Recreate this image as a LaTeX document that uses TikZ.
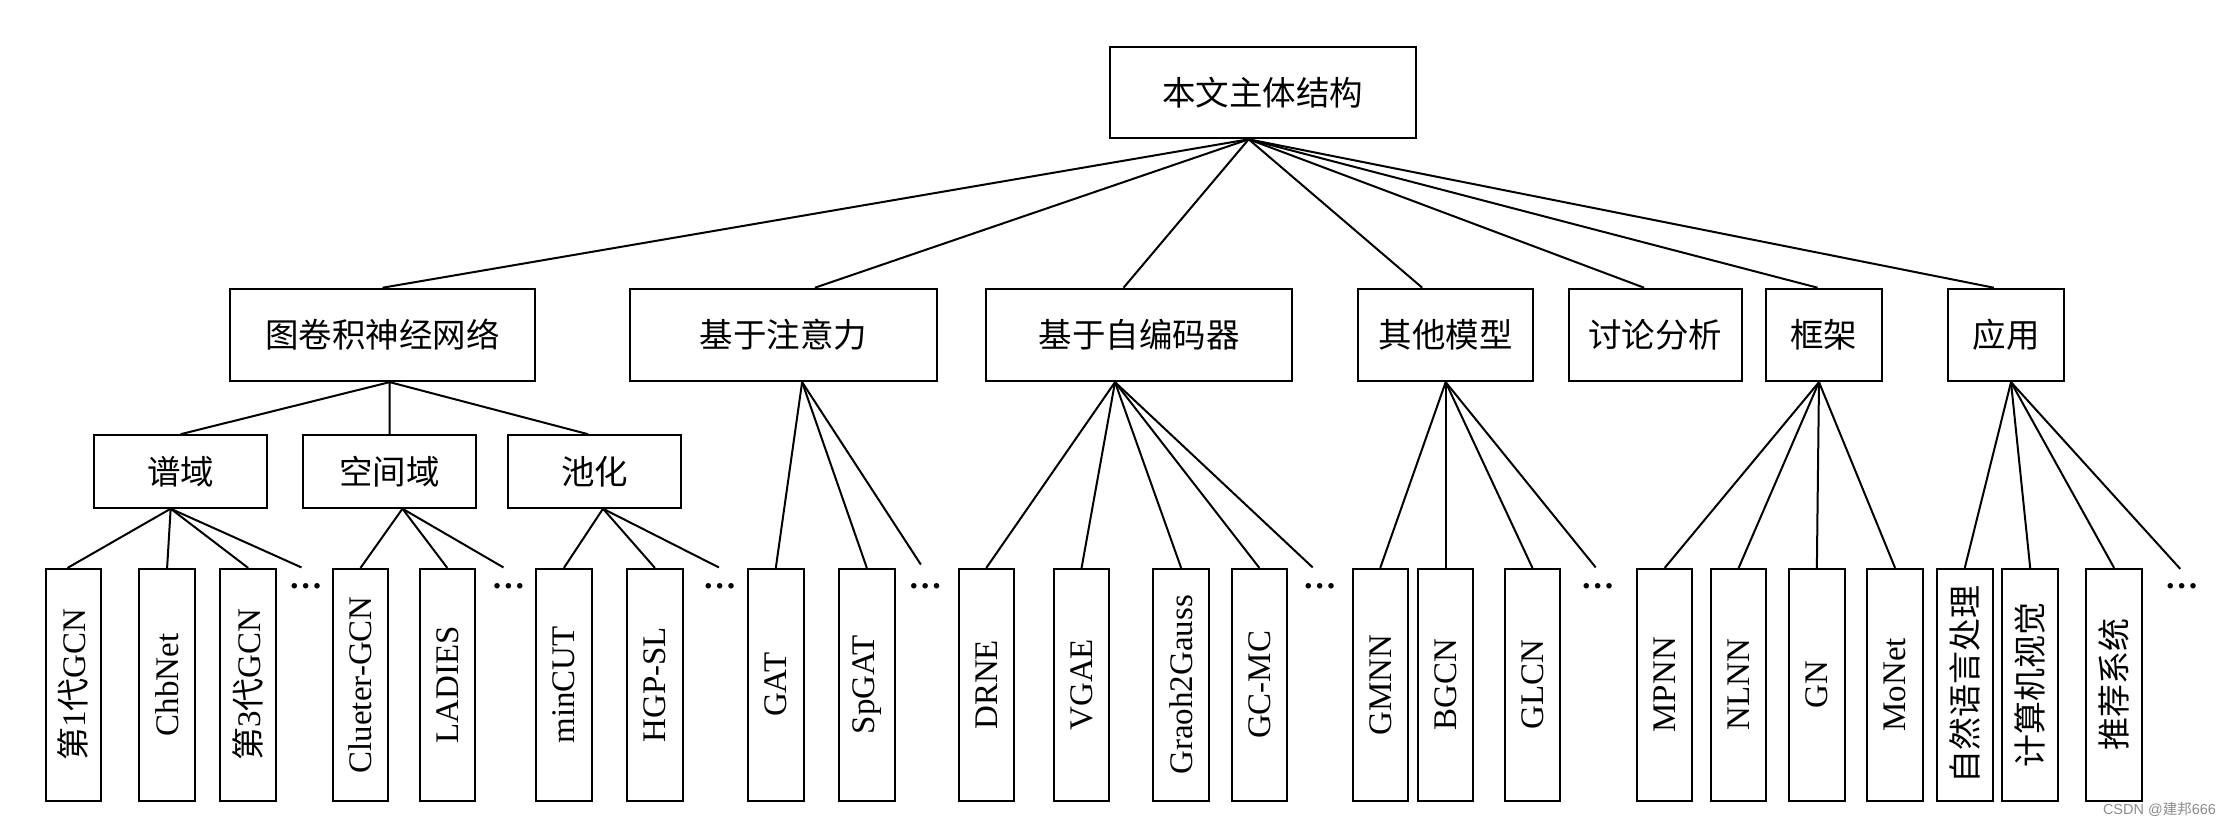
\documentclass[tikz,border=0pt]{standalone}
\usepackage{fontspec}
\usepackage{graphicx}
\setmainfont{Liberation Serif}
\newfontfamily\cjk{Noto Sans CJK SC}
\newfontfamily\markfont{Liberation Sans}

\begin{document}
\begin{tikzpicture}[x=0.02cm,y=-0.02cm,line width=0.8pt,
	box/.style={draw,inner sep=0pt,minimum height=1.3cm,font=\fontsize{13.4}{16}\selectfont\cjk},
	subbox/.style={draw,inner sep=0pt,minimum width=2.44cm,minimum height=1.02cm,font=\fontsize{13.4}{16}\selectfont\cjk},
	leaf/.style={draw,inner sep=0pt,minimum width=0.78cm,minimum height=3.26cm,font=\fontsize{13.2}{16}\selectfont},
	more/.style={inner sep=0pt,font=\fontsize{13.5}{16}\selectfont\bfseries}]
\useasboundingbox (0,0) rectangle (1568,581);
%
	\node[box,minimum width=4.31cm,minimum height=1.29cm] (root) at (888,65) {本文主体结构};
%
	\node[box,minimum width=4.28cm] (gcn) at (269,235.5) {图卷积神经网络};
	\node[box,minimum width=4.32cm] (att) at (551,235.5) {基于注意力};
	\node[box,minimum width=4.31cm] (ae) at (801,235.5) {基于自编码器};
	\node[box,minimum width=2.46cm] (other) at (1016.5,235.5) {其他模型};
	\node[box,minimum width=2.44cm] (disc) at (1164,235.5) {讨论分析};
	\node[box,minimum width=1.62cm] (frame) at (1282.5,235.5) {框架};
	\node[box,minimum width=1.62cm] (app) at (1410.5,235.5) {应用};
%
	\node[subbox] (spec) at (127,331.5) {谱域};
	\node[subbox] (spat) at (274,331.5) {空间域};
	\node[subbox] (pool) at (418,331.5) {池化};
%
	\node[leaf] (gcnA) at (51.5,481.5) {\rotatebox{90}{{\cjk 第}1{\cjk 代}GCN}};
	\node[leaf] (chebnet) at (117.5,481.5) {\rotatebox{90}{ChbNet}};
	\node[leaf] (gcnC) at (174.5,481.5) {\rotatebox{90}{{\cjk 第}3{\cjk 代}GCN}};
	\node[leaf] (clustergcn) at (253.5,481.5) {\rotatebox{90}{Clueter-GCN}};
	\node[leaf] (ladies) at (314.5,481.5) {\rotatebox{90}{LADIES}};
	\node[leaf] (mincut) at (396.5,481.5) {\rotatebox{90}{minCUT}};
	\node[leaf] (hgpsl) at (460.5,481.5) {\rotatebox{90}{HGP-SL}};
	\node[leaf] (gat) at (545.5,481.5) {\rotatebox{90}{GAT}};
	\node[leaf] (spgat) at (609.5,481.5) {\rotatebox{90}{SpGAT}};
	\node[leaf] (drne) at (693.5,481.5) {\rotatebox{90}{DRNE}};
	\node[leaf] (vgae) at (760.5,481.5) {\rotatebox{90}{VGAE}};
	\node[leaf] (gtg) at (830.5,481.5) {\rotatebox{90}{Graoh2Gauss}};
	\node[leaf] (gcmc) at (885.5,481.5) {\rotatebox{90}{GC-MC}};
	\node[leaf] (gmnn) at (970.5,481.5) {\rotatebox{90}{GMNN}};
	\node[leaf] (bgcn) at (1016.5,481.5) {\rotatebox{90}{BGCN}};
	\node[leaf] (glcn) at (1077.5,481.5) {\rotatebox{90}{GLCN}};
	\node[leaf] (mpnn) at (1170.5,481.5) {\rotatebox{90}{MPNN}};
	\node[leaf] (nlnn) at (1222.5,481.5) {\rotatebox{90}{NLNN}};
	\node[leaf] (gn) at (1277.5,481.5) {\rotatebox{90}{GN}};
	\node[leaf] (monet) at (1332.5,481.5) {\rotatebox{90}{MoNet}};
	\node[leaf] (nlp) at (1381.5,481.5) {\rotatebox{90}{\cjk 自然语言处理}};
	\node[leaf] (cv) at (1427.5,481.5) {\rotatebox{90}{\cjk 计算机视觉}};
	\node[leaf] (rec) at (1486.5,481.5) {\rotatebox{90}{\cjk 推荐系统}};
%
	\node[more] (dotsA) at (215,412) {…};
	\node[more] (dotsB) at (357.5,412) {…};
	\node[more] (dotsC) at (506,412) {…};
	\node[more] (dotsD) at (650.5,412) {…};
	\node[more] (dotsE) at (928,412) {…};
	\node[more] (dotsF) at (1123.5,412) {…};
	\node[more] (dotsG) at (1534,412) {…};
%
	\coordinate (endA) at (212,399);
	\coordinate (endB) at (354,399);
	\coordinate (endC) at (505.5,399);
	\coordinate (endD) at (647.5,397);
	\coordinate (endE) at (923,399);
	\coordinate (endF) at (1122,399);
	\coordinate (endG) at (1533,400);
%
	\coordinate (rootb) at ([xshift=-0.2cm]root.south);
	\draw (rootb) -- (gcn.north);
	\draw (rootb) -- ([xshift=0.44cm]att.north);
	\draw (rootb) -- ([xshift=-0.22cm]ae.north);
	\draw (rootb) -- ([xshift=-0.33cm]other.north);
	\draw (rootb) -- ([xshift=-0.16cm]disc.north);
	\draw (rootb) -- ([xshift=-0.09cm]frame.north);
	\draw (rootb) -- ([xshift=-0.17cm]app.north);
%
	\coordinate (gcnb) at ([xshift=0.1cm]gcn.south);
	\draw (gcnb) -- (spec.north);
	\draw (gcnb) -- (spat.north);
	\draw (gcnb) -- ([xshift=-0.09cm]pool.north);
%
	\coordinate (specb) at ([xshift=-0.14cm]spec.south);
	\draw (specb) -- ([xshift=-0.08cm]gcnA.north);
	\draw (specb) -- (chebnet.north);
	\draw (specb) -- (gcnC.north);
	\draw (specb) -- (endA);
	\coordinate (spatb) at ([xshift=0.18cm]spat.south);
	\draw (spatb) -- (clustergcn.north);
	\draw (spatb) -- (ladies.north);
	\draw (spatb) -- (endB);
	\coordinate (poolb) at ([xshift=0.12cm]pool.south);
	\draw (poolb) -- (mincut.north);
	\draw (poolb) -- (hgpsl.north);
	\draw (poolb) -- (endC);
%
	\coordinate (attb) at ([xshift=0.26cm]att.south);
	\draw (attb) -- (gat.north);
	\draw (attb) -- (spgat.north);
	\draw (attb) -- (endD);
	\coordinate (aeb) at ([xshift=-0.34cm]ae.south);
	\draw (aeb) -- (drne.north);
	\draw (aeb) -- (vgae.north);
	\draw (aeb) -- (gtg.north);
	\draw (aeb) -- (gcmc.north);
	\draw (aeb) -- (endE);
	\draw (other.south) -- (gmnn.north);
	\draw (other.south) -- (bgcn.north);
	\draw (other.south) -- (glcn.north);
	\draw (other.south) -- (endF);
	\coordinate (frameb) at ([xshift=-0.07cm]frame.south);
	\draw (frameb) -- (mpnn.north);
	\draw (frameb) -- (nlnn.north);
	\draw (frameb) -- (gn.north);
	\draw (frameb) -- (monet.north);
	\coordinate (appb) at ([xshift=0.07cm]app.south);
	\draw (appb) -- (nlp.north);
	\draw (appb) -- (cv.north);
	\draw (appb) -- (rec.north);
	\draw (appb) -- (endG);
%
	\node[anchor=west,inner sep=0pt,text=black!45,font=\fontsize{5.8}{7}\selectfont\markfont] (mark) at (1478,569) {CSDN @{\cjk 建邦}666};
\end{tikzpicture}
\end{document}
